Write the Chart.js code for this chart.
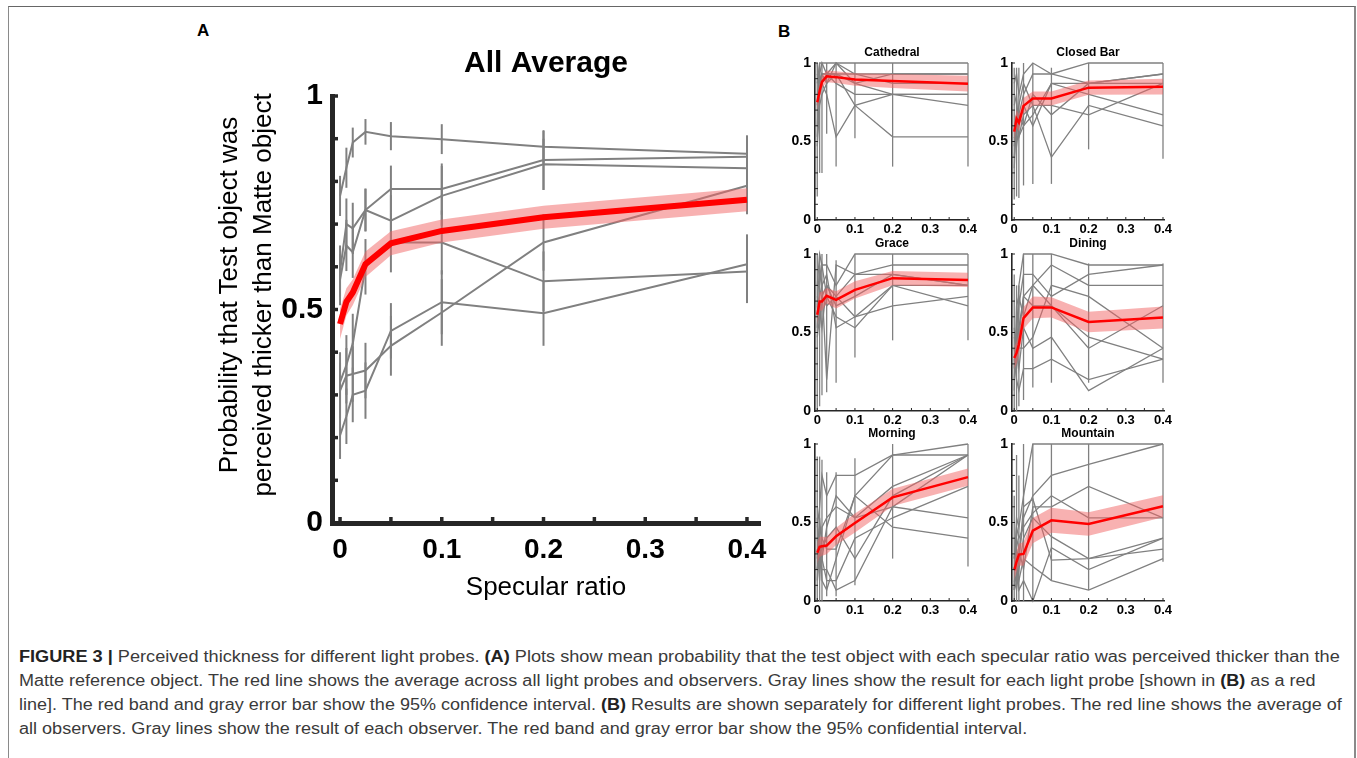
<!DOCTYPE html>
<html><head><meta charset="utf-8">
<script src="https://cdn.jsdelivr.net/npm/chart.js@4.4.1/dist/chart.umd.min.js"></script>
<style>
html,body{margin:0;padding:0;background:#fff}
body{width:1357px;height:758px;overflow:hidden;position:relative;font-family:"Liberation Sans",Arial,Helvetica,sans-serif}
.frame{position:absolute;left:8px;top:6px;width:1345px;height:800px;border-left:1px solid #8a8a8a;border-top:1px solid #666;border-right:2px solid #8a8a8a}
canvas{position:absolute}
.plab{position:absolute;font-weight:bold;font-size:17px;color:#000;line-height:20px}
.ytitle{position:absolute;left:25px;top:261px;width:440px;height:68px;font-size:26px;line-height:34px;text-align:center;color:#000;transform:rotate(-90deg);transform-origin:50% 50%;white-space:nowrap}
.cap{position:absolute;left:19px;font-size:16px;line-height:20px;color:#3a3a3a;white-space:nowrap;transform-origin:0 50%}
.cap b{color:#222}
</style></head>
<body>
<div class="frame"></div>
<div class="plab" style="left:197px;top:21px">A</div>
<div class="plab" style="left:778px;top:22px">B</div>
<canvas id="cA" width="640" height="580" style="left:150px;top:40px"></canvas>
<div class="ytitle">Probability that Test object was<br>perceived thicker than Matte object</div>
<canvas id="p0"></canvas><canvas id="p1"></canvas><canvas id="p2"></canvas>
<canvas id="p3"></canvas><canvas id="p4"></canvas><canvas id="p5"></canvas>
<div class="cap" id="l1" style="top:647px"><b>FIGURE 3 |</b> Perceived thickness for different light probes. <b>(A)</b> Plots show mean probability that the test object with each specular ratio was perceived thicker than the</div>
<div class="cap" id="l2" style="top:671px">Matte reference object. The red line shows the average across all light probes and observers. Gray lines show the result for each light probe [shown in <b>(B)</b> as a red</div>
<div class="cap" id="l3" style="top:695px">line]. The red band and gray error bar show the 95% confidence interval. <b>(B)</b> Results are shown separately for different light probes. The red line shows the average of</div>
<div class="cap" id="l4" style="top:719px">all observers. Gray lines show the result of each observer. The red band and gray error bar show the 95% confidential interval.</div>
<script>
// ---------------- data ----------------
const specularRatios = [0, 0.00625, 0.0125, 0.025, 0.05, 0.1, 0.2, 0.4];
const xLabelTicks = [0, 0.1, 0.2, 0.3, 0.4];
const xLabelText = ['0', '0.1', '0.2', '0.3', '0.4'];
const yLabelTicks = [0, 0.5, 1];
const yLabelText = ['0', '0.5', '1'];
const xMinorTicks = [0, 0.05, 0.1, 0.15, 0.2, 0.25, 0.3, 0.35, 0.4];
const yMinorTicks = [0, 0.1, 0.2, 0.3, 0.4, 0.5, 0.6, 0.7, 0.8, 0.9, 1];
const probeNames = ['Cathedral', 'Closed Bar', 'Grace', 'Dining', 'Morning', 'Mountain'];

// Panel A: per light probe (averaged over observers)
const avgCathedral = [0.766, 0.832, 0.891, 0.916, 0.906, 0.899, 0.881, 0.865];
const avgClosedBar = [0.57, 0.65, 0.634, 0.733, 0.782, 0.782, 0.85, 0.858];
const avgGrace     = [0.59, 0.70, 0.69, 0.733, 0.708, 0.766, 0.84, 0.831];
const avgDining    = [0.33, 0.37, 0.42, 0.60, 0.657, 0.657, 0.566, 0.589];
const avgMorning   = [0.31, 0.345, 0.349, 0.357, 0.415, 0.493, 0.657, 0.79];
const avgMountain  = [0.205, 0.25, 0.30, 0.31, 0.45, 0.517, 0.491, 0.606];
const errCathedral = [0.047, 0.047, 0.035, 0.03, 0.033, 0.035, 0.037, 0.041];
const errClosedBar = [0.06, 0.06, 0.06, 0.05, 0.055, 0.06, 0.07, 0.05];
const errGrace     = [0.06, 0.06, 0.06, 0.05, 0.06, 0.07, 0.06, 0.06];
const errDining    = [0.07, 0.07, 0.07, 0.065, 0.07, 0.075, 0.07, 0.074];
const errMorning   = [0.065, 0.065, 0.065, 0.065, 0.07, 0.078, 0.066, 0.067];
const errMountain  = [0.055, 0.065, 0.064, 0.066, 0.065, 0.075, 0.076, 0.07];
const meanAll   = [0.466, 0.518, 0.54, 0.606, 0.655, 0.684, 0.716, 0.757];
const meanAllCi = [0.035, 0.032, 0.03, 0.03, 0.028, 0.027, 0.027, 0.027];

// Panel B: per observer, for each light probe
const cathedralMean = [0.75, 0.82, 0.88, 0.915, 0.91, 0.895, 0.885, 0.868];
const cathedralCi   = [0.05, 0.045, 0.04, 0.037, 0.037, 0.04, 0.045, 0.05];
const cathedralObservers = [
  [0.87, 1.00, 1.00, 1.00, 1.00, 1.00, 1.00, 1.00],
  [0.93, 0.87, 0.93, 0.93, 1.00, 0.93, 0.93, 0.93],
  [0.60, 0.93, 1.00, 0.93, 0.93, 0.87, 0.93, 0.93],
  [0.80, 0.87, 0.87, 0.80, 0.53, 0.73, 0.80, 0.80],
  [0.53, 0.80, 0.93, 0.93, 0.93, 0.73, 0.53, 0.53],
  [0.73, 0.93, 0.87, 0.93, 0.87, 0.80, 0.80, 0.73],
  [1.00, 0.80, 0.93, 0.87, 1.00, 0.87, 0.80, 0.80],
  [0.47, 0.73, 0.80, 0.87, 0.93, 0.93, 0.87, 0.87]
];
const cathedralBarLo = [0.15, 0.30, 0.30, 0.55, 0.34, 0.52, 0.34, 0.34];
const cathedralBarHi = [1, 1, 1, 1, 1, 1, 1, 1];

const closedBarMean = [0.563, 0.645, 0.62, 0.727, 0.774, 0.774, 0.843, 0.849];
const closedBarCi   = [0.06, 0.055, 0.055, 0.05, 0.045, 0.045, 0.045, 0.05];
const closedBarObservers = [
  [0.87, 0.93, 0.80, 0.93, 1.00, 0.93, 1.00, 1.00],
  [0.60, 0.53, 0.67, 0.80, 0.93, 0.93, 0.87, 0.93],
  [0.47, 0.67, 0.53, 0.60, 0.67, 0.87, 0.80, 0.67],
  [0.40, 0.60, 0.73, 0.87, 0.73, 0.40, 0.73, 0.60],
  [0.53, 0.47, 0.60, 0.73, 0.60, 0.87, 0.87, 0.87],
  [0.73, 0.80, 0.53, 0.67, 0.73, 0.73, 0.67, 0.87],
  [0.33, 0.67, 0.67, 0.60, 0.80, 0.67, 0.87, 0.93]
];
const closedBarBarLo = [0.13, 0.15, 0.14, 0.22, 0.23, 0.23, 0.45, 0.39];
const closedBarBarHi = [0.97, 0.97, 0.97, 1, 1, 0.97, 1, 1];

const graceMean = [0.613, 0.698, 0.698, 0.734, 0.708, 0.772, 0.846, 0.835];
const graceCi   = [0.06, 0.06, 0.06, 0.05, 0.055, 0.055, 0.045, 0.045];
const graceObservers = [
  [0.80, 1.00, 0.93, 0.93, 0.80, 1.00, 1.00, 1.00],
  [0.67, 0.93, 0.80, 0.20, 0.93, 0.87, 0.93, 0.93],
  [0.60, 0.73, 0.80, 0.87, 0.53, 0.60, 0.67, 0.73],
  [0.47, 0.60, 0.73, 0.67, 0.73, 0.87, 0.87, 0.80],
  [0.73, 0.67, 0.53, 0.80, 0.73, 0.60, 0.80, 0.67],
  [0.53, 0.80, 0.93, 0.73, 0.60, 0.53, 0.80, 0.80],
  [0.67, 0.53, 0.73, 0.80, 0.67, 0.73, 0.87, 0.80]
];
const graceBarLo = [0.0, 0.03, 0.10, 0.12, 0.18, 0.34, 0.45, 0.45];
const graceBarHi = [1, 1, 1, 1, 0.96, 1, 1, 1];

const diningMean = [0.338, 0.37, 0.423, 0.592, 0.66, 0.66, 0.567, 0.596];
const diningCi   = [0.07, 0.07, 0.07, 0.07, 0.07, 0.065, 0.065, 0.07];
const diningObservers = [
  [0.20, 0.47, 0.80, 1.00, 1.00, 1.00, 0.93, 0.93],
  [0.53, 0.33, 0.67, 0.87, 0.87, 0.73, 0.87, 0.93],
  [0.40, 0.27, 0.47, 0.73, 0.80, 0.93, 0.80, 0.80],
  [0.27, 0.53, 0.40, 0.40, 0.47, 0.80, 0.73, 0.40],
  [0.33, 0.20, 0.13, 0.27, 0.27, 0.33, 0.20, 0.33],
  [0.47, 0.40, 0.27, 0.53, 0.40, 0.47, 0.13, 0.40],
  [0.13, 0.67, 0.73, 0.60, 0.80, 0.67, 0.47, 0.33],
  [0.40, 0.33, 0.53, 0.73, 0.67, 0.67, 0.40, 0.67]
];
const diningBarLo = [0, 0, 0.03, 0.07, 0.15, 0.18, 0.18, 0.18];
const diningBarHi = [0.87, 0.8, 0.8, 1, 1, 1, 0.94, 0.94];

const morningMean = [0.307, 0.345, 0.349, 0.353, 0.412, 0.497, 0.66, 0.789];
const morningCi   = [0.07, 0.065, 0.06, 0.055, 0.055, 0.06, 0.055, 0.055];
const morningObservers = [
  [0.47, 0.60, 0.80, 0.67, 0.80, 0.80, 0.93, 0.93],
  [0.20, 0.40, 0.13, 0.07, 0.27, 0.67, 0.93, 1.00],
  [0.33, 0.13, 0.47, 0.53, 0.60, 0.53, 0.73, 0.93],
  [0.27, 0.53, 0.33, 0.40, 0.47, 0.27, 0.67, 0.93],
  [0.40, 0.27, 0.20, 0.20, 0.07, 0.13, 0.60, 0.53],
  [0.13, 0.47, 0.40, 0.33, 0.33, 0.67, 0.47, 0.40],
  [0.53, 0.20, 0.27, 0.13, 0.13, 0.40, 0.53, 0.73],
  [0.20, 0.33, 0.27, 0.47, 0.67, 0.53, 0.60, 0.93]
];
const morningBarLo = [0, 0, 0, 0.03, 0.03, 0.10, 0.27, 0.22];
const morningBarHi = [0.92, 0.92, 0.9, 0.82, 0.82, 0.91, 1, 1];

const mountainMean = [0.197, 0.25, 0.296, 0.30, 0.448, 0.514, 0.49, 0.603];
const mountainCi   = [0.06, 0.065, 0.07, 0.075, 0.08, 0.08, 0.075, 0.07];
const mountainObservers = [
  [0.07, 0.53, 0.47, 0.67, 1.00, 1.00, 1.00, 1.00],
  [0.20, 0.33, 0.27, 0.53, 0.67, 0.80, 0.87, 1.00],
  [0.27, 0.40, 0.33, 0.20, 0.60, 0.60, 0.73, 0.53],
  [0.13, 0.07, 0.20, 0.40, 0.53, 0.41, 0.27, 0.33],
  [0.20, 0.27, 0.07, 0.13, 0.00, 0.34, 0.20, 0.40],
  [0.07, 0.20, 0.13, 0.27, 0.22, 0.13, 0.07, 0.27],
  [0.27, 0.47, 0.40, 0.47, 0.56, 0.67, 0.53, 0.53],
  [0.13, 0.13, 0.27, 0.60, 0.65, 0.26, 0.27, 0.40]
];
const mountainBarLo = [0, 0, 0, 0, 0, 0.13, 0.07, 0.25];
const mountainBarHi = [0.67, 0.93, 0.8, 1, 1, 1, 1, 1];

// ---------------- drawing ----------------
const FONT = '"Liberation Sans", Arial, Helvetica, sans-serif';
const GRAY = '#808080', RED = '#ff0000', BAND = 'rgba(242,100,100,0.5)', AXIS = '#262626';

const deco = {
  id: 'deco',
  beforeDatasetsDraw(chart, args, o) {
    if (!o || !o.bars) return;
    const {ctx} = chart, xS = chart.scales.x, yS = chart.scales.y;
    ctx.save(); ctx.strokeStyle = o.barColor; ctx.lineWidth = o.barWidth;
    o.bars.forEach(b => b.x.forEach((xv, i) => {
      const px = xS.getPixelForValue(xv);
      ctx.beginPath();
      ctx.moveTo(px, yS.getPixelForValue(b.lo[i]));
      ctx.lineTo(px, yS.getPixelForValue(b.hi[i]));
      ctx.stroke();
    }));
    ctx.restore();
  },
  afterDraw(chart, args, o) {
    if (!o || !o.yMinor) return;
    const {ctx, chartArea: a} = chart, xS = chart.scales.x, yS = chart.scales.y;
    ctx.save(); ctx.strokeStyle = AXIS; ctx.lineWidth = o.tickWidth;
    o.yMinor.forEach(v => { const py = yS.getPixelForValue(v); ctx.beginPath(); ctx.moveTo(a.left, py); ctx.lineTo(a.left + o.tickLen, py); ctx.stroke(); });
    o.xMinor.forEach(v => { const px = xS.getPixelForValue(v); ctx.beginPath(); ctx.moveTo(px, a.bottom); ctx.lineTo(px, a.bottom - o.tickLen); ctx.stroke(); });
    ctx.restore();
  }
};
Chart.register(deco);

const pts = ys => specularRatios.map((x, i) => ({x, y: ys[i]}));
const lineDs = (ys, color, width, order) => ({data: pts(ys), borderColor: color, borderWidth: width, pointRadius: 0, fill: false, tension: 0, order, clip: false});
const bandDs = (mean, ci) => [
  {data: pts(mean.map((m, i) => m - ci[i])), borderWidth: 0, pointRadius: 0, fill: false, order: 2, clip: false},
  {data: pts(mean.map((m, i) => m + ci[i])), borderWidth: 0, pointRadius: 0, fill: '-1', backgroundColor: BAND, order: 2, clip: false}
];

function axes(o) {
  return {
    x: {type: 'linear', min: o.xmin, max: o.xmax,
      border: {display: true, width: o.axisW, color: AXIS},
      grid: {display: true, drawOnChartArea: false, drawTicks: false},
      afterBuildTicks: s => { s.ticks = xLabelTicks.map(v => ({value: v})); },
      afterFit: s => { s.height = o.xH; },
      ticks: {autoSkip: false, maxRotation: 0, padding: o.xPad, color: '#000', font: {family: FONT, size: o.xFont, weight: 'bold'}, callback: (v, i) => xLabelText[i]},
      title: o.xTitle ? {display: true, text: o.xTitle, color: '#000', font: {family: FONT, size: 26}, padding: {top: 0, bottom: 17}} : {display: false}
    },
    y: {type: 'linear', min: 0, max: 1,
      border: {display: true, width: o.axisW, color: AXIS},
      grid: {display: true, drawOnChartArea: false, drawTicks: false},
      afterBuildTicks: s => { s.ticks = yLabelTicks.map(v => ({value: v})); },
      afterFit: s => { s.width = o.yW; },
      ticks: {autoSkip: false, padding: o.yPad, color: '#000', font: {family: FONT, size: o.yFont, weight: 'bold'}, callback: (v, i) => yLabelText[i]}
    }
  };
}

// Panel A
new Chart(document.getElementById('cA'), {
  type: 'line',
  data: {datasets: [
    lineDs(avgCathedral, GRAY, 2, 3), lineDs(avgClosedBar, GRAY, 2, 3), lineDs(avgGrace, GRAY, 2, 3),
    lineDs(avgDining, GRAY, 2, 3), lineDs(avgMorning, GRAY, 2, 3), lineDs(avgMountain, GRAY, 2, 3),
    ...bandDs(meanAll, meanAllCi),
    lineDs(meanAll, RED, 6, 1)
  ]},
  options: {
    responsive: false, animation: false, devicePixelRatio: 1,
    layout: {padding: {left: 0, right: 30, top: 0, bottom: 0}},
    plugins: {
      legend: {display: false}, tooltip: {enabled: false},
      title: {display: true, text: 'All Average', fullSize: false, color: '#000', font: {family: FONT, size: 30, weight: 'bold', lineHeight: 1.2}, padding: {top: 6, bottom: 14}},
      deco: {
        bars: [[avgCathedral, errCathedral], [avgClosedBar, errClosedBar], [avgGrace, errGrace], [avgDining, errDining], [avgMorning, errMorning], [avgMountain, errMountain]]
          .map(([m, e]) => ({x: specularRatios, lo: m.map((v, i) => v - e[i]), hi: m.map((v, i) => v + e[i])})),
        barColor: GRAY, barWidth: 2, yMinor: yMinorTicks, xMinor: xMinorTicks, tickLen: 6, tickWidth: 3.5
      }
    },
    scales: axes({xmin: -0.0079, xmax: 0.4128, axisW: 5, xH: 97, yW: 182, xPad: 10, yPad: 9, xFont: 28, yFont: 30, xTitle: 'Specular ratio'})
  }
});

// Panel B
const panels = [
  [cathedralMean, cathedralCi, cathedralObservers, cathedralBarLo, cathedralBarHi],
  [closedBarMean, closedBarCi, closedBarObservers, closedBarBarLo, closedBarBarHi],
  [graceMean, graceCi, graceObservers, graceBarLo, graceBarHi],
  [diningMean, diningCi, diningObservers, diningBarLo, diningBarHi],
  [morningMean, morningCi, morningObservers, morningBarLo, morningBarHi],
  [mountainMean, mountainCi, mountainObservers, mountainBarLo, mountainBarHi]
];
const colLeft = [815, 1012], colRight = [969, 1164], rowTop = [63, 254, 444];
const PH = 157, YW = 40, TH = 22, XH = 20, RP = 12;
panels.forEach(([mean, ci, obs, lo, hi], k) => {
  const c = k % 2, r = Math.floor(k / 2);
  const cv = document.getElementById('p' + k);
  cv.width = colRight[c] - colLeft[c] + YW + RP; cv.height = TH + PH + XH;
  cv.style.left = (colLeft[c] - YW) + 'px'; cv.style.top = (rowTop[r] - TH) + 'px';
  new Chart(cv, {
    type: 'line',
    data: {datasets: [...obs.map(o => lineDs(o, GRAY, 1.3, 3)), ...bandDs(mean, ci), lineDs(mean, RED, 2.5, 1)]},
    options: {
      responsive: false, animation: false, devicePixelRatio: 1,
      layout: {padding: {left: 0, right: RP, top: 0, bottom: 0}},
      plugins: {
        legend: {display: false}, tooltip: {enabled: false},
        title: {display: true, text: probeNames[k], fullSize: false, color: '#000', font: {family: FONT, size: 12, weight: 'bold', lineHeight: 1.2}, padding: {top: 4, bottom: 3.6}},
        deco: {bars: [{x: specularRatios, lo, hi}], barColor: GRAY, barWidth: 1.3, yMinor: yMinorTicks, xMinor: xMinorTicks, tickLen: 3, tickWidth: 1}
      },
      scales: axes({xmin: -0.006, xmax: 0.4027, axisW: 1.6, xH: XH, yW: YW, xPad: 2, yPad: 4, xFont: 13, yFont: 14})
    }
  });
});

// caption fitting: each wrapped line scaled to its measured width in the reference
(document.fonts ? document.fonts.ready : Promise.resolve()).then(() => {
  const targets = {l1: 1321, l2: 1296, l3: 1323};
  let sum = 0;
  Object.keys(targets).forEach(id => {
    const el = document.getElementById(id);
    const k = targets[id] / el.scrollWidth; sum += k;
    el.style.transform = 'scaleX(' + k + ')';
  });
  document.getElementById('l4').style.transform = 'scaleX(' + (sum / 3) + ')';
});
</script>
</body></html>
